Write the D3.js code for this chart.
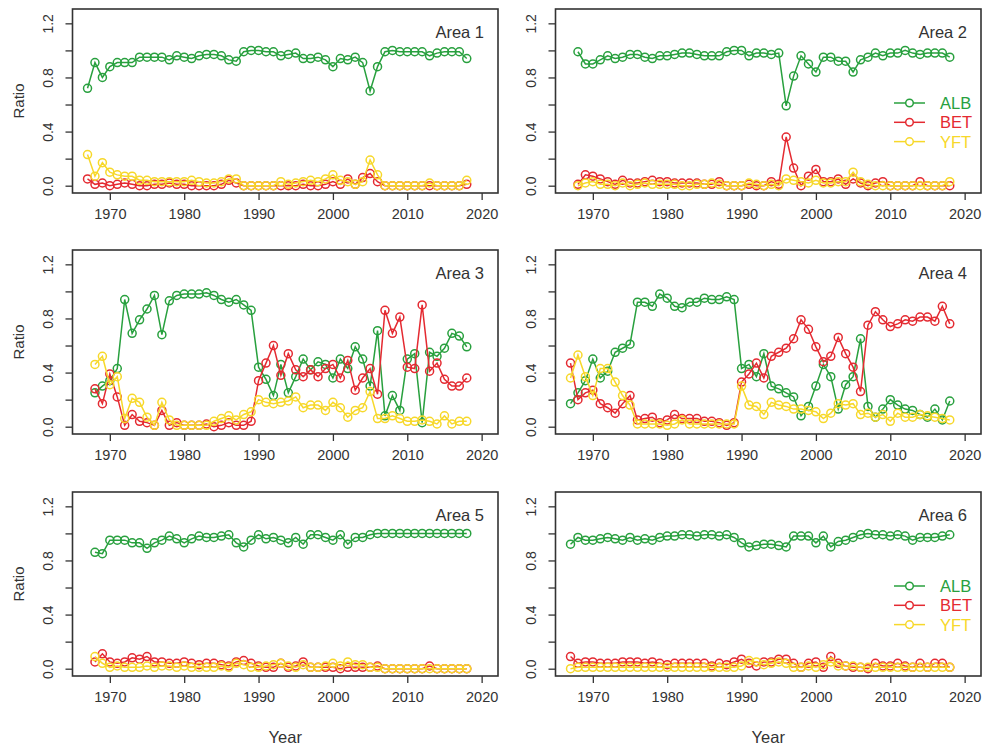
<!DOCTYPE html>
<html>
<head>
<meta charset="utf-8">
<script src="https://cdn.jsdelivr.net/npm/d3@7"></script>
<style>
  html, body { margin: 0; padding: 0; background: #fff; }
  svg { display: block; font-family: "Liberation Sans", Arial, sans-serif; }
</style>
</head>
<body>
<svg id="chart" width="986" height="747"></svg>
<script>
// ── species ratio by area, 6 small multiples (R base-graphics look) ──

const SPECIES = ["ALB", "BET", "YFT"];
const AREAS = ["Area 1", "Area 2", "Area 3", "Area 4", "Area 5", "Area 6"];
const FIRST_YEAR = [1967, 1968, 1968, 1967, 1968, 1967];   // all series end in 2018
const X_TICKS = [1970, 1980, 1990, 2000, 2010, 2020];
const Y_TICKS = [0, 0.2, 0.4, 0.6, 0.8, 1.0, 1.2];
const Y_LABELS = [0, 0.4, 0.8, 1.2];

// Area 1 (1967-2018)
const area1ALB = [0.72,0.91,0.80,0.88,0.91,0.91,0.91,0.95,0.95,0.95,0.95,0.93,0.96,0.95,0.94,0.96,0.97,0.97,0.96,0.93,0.92,0.99,1.00,1.00,0.99,0.99,0.96,0.97,0.98,0.94,0.94,0.95,0.93,0.88,0.94,0.93,0.95,0.91,0.70,0.88,0.99,1.00,0.99,0.99,0.99,0.99,0.96,0.98,0.99,0.99,0.99,0.94];
const area1BET = [0.05,0.01,0.02,0.00,0.01,0.02,0.01,0.00,0.00,0.01,0.01,0.02,0.01,0.01,0.00,0.00,0.00,0.00,0.01,0.04,0.02,0.00,0.00,0.00,0.00,0.00,0.00,0.00,0.00,0.01,0.00,0.00,0.01,0.03,0.01,0.05,0.01,0.06,0.09,0.03,0.00,0.00,0.00,0.00,0.00,0.00,0.00,0.00,0.00,0.00,0.00,0.01];
const area1YFT = [0.23,0.07,0.17,0.10,0.08,0.07,0.07,0.04,0.04,0.03,0.03,0.03,0.03,0.03,0.04,0.03,0.02,0.02,0.03,0.05,0.05,0.00,0.00,0.00,0.00,0.00,0.03,0.01,0.02,0.03,0.04,0.03,0.05,0.08,0.04,0.03,0.01,0.03,0.19,0.08,0.00,0.00,0.00,0.00,0.00,0.00,0.02,0.00,0.00,0.00,0.00,0.04];

// Area 2 (1968-2018)
const area2ALB = [0.99,0.90,0.90,0.93,0.96,0.94,0.95,0.97,0.97,0.95,0.94,0.96,0.96,0.97,0.98,0.98,0.97,0.96,0.96,0.96,0.99,1.00,1.00,0.96,0.98,0.98,0.97,0.98,0.59,0.81,0.96,0.90,0.84,0.95,0.95,0.92,0.92,0.84,0.93,0.95,0.98,0.96,0.98,0.98,1.00,0.98,0.97,0.98,0.98,0.98,0.95];
const area2BET = [0.01,0.08,0.07,0.05,0.03,0.01,0.04,0.02,0.02,0.03,0.04,0.03,0.03,0.02,0.02,0.02,0.02,0.01,0.01,0.03,0.00,0.00,0.00,0.01,0.00,0.00,0.03,0.01,0.36,0.13,0.00,0.07,0.12,0.03,0.03,0.05,0.01,0.05,0.02,0.00,0.02,0.03,0.00,0.00,0.00,0.00,0.03,0.00,0.00,0.00,0.00];
const area2YFT = [0.00,0.02,0.03,0.01,0.01,0.00,0.02,0.00,0.01,0.02,0.01,0.01,0.01,0.01,0.00,0.00,0.01,0.01,0.02,0.01,0.00,0.00,0.00,0.02,0.01,0.00,0.01,0.00,0.05,0.04,0.03,0.02,0.04,0.02,0.02,0.03,0.03,0.10,0.03,0.01,0.00,0.00,0.00,0.00,0.00,0.00,0.00,0.00,0.00,0.00,0.03];

// Area 3 (1968-2018)
const area3ALB = [0.25,0.30,0.34,0.43,0.94,0.69,0.79,0.87,0.97,0.68,0.93,0.97,0.98,0.98,0.98,0.99,0.97,0.94,0.92,0.94,0.90,0.86,0.44,0.35,0.23,0.46,0.25,0.37,0.50,0.42,0.48,0.46,0.36,0.50,0.43,0.59,0.50,0.30,0.71,0.08,0.23,0.12,0.50,0.54,0.03,0.55,0.52,0.58,0.69,0.67,0.59];
const area3BET = [0.28,0.17,0.39,0.22,0.01,0.09,0.04,0.03,0.01,0.12,0.01,0.03,0.01,0.01,0.01,0.02,0.00,0.01,0.03,0.01,0.01,0.04,0.34,0.47,0.60,0.38,0.54,0.42,0.37,0.42,0.37,0.43,0.46,0.36,0.49,0.27,0.36,0.43,0.24,0.86,0.69,0.81,0.44,0.43,0.90,0.41,0.47,0.35,0.30,0.30,0.36];
const area3YFT = [0.46,0.52,0.31,0.37,0.06,0.21,0.18,0.07,0.01,0.18,0.05,0.01,0.01,0.01,0.01,0.01,0.04,0.06,0.08,0.05,0.09,0.11,0.20,0.18,0.17,0.18,0.19,0.22,0.14,0.16,0.16,0.12,0.18,0.14,0.07,0.12,0.14,0.26,0.06,0.06,0.08,0.06,0.04,0.04,0.05,0.04,0.02,0.08,0.02,0.04,0.04];

// Area 4 (1967-2018)
const area4ALB = [0.17,0.25,0.34,0.50,0.36,0.41,0.55,0.58,0.61,0.92,0.92,0.89,0.98,0.95,0.89,0.88,0.92,0.92,0.95,0.94,0.94,0.96,0.94,0.43,0.46,0.37,0.54,0.30,0.28,0.25,0.22,0.08,0.15,0.30,0.46,0.37,0.13,0.31,0.37,0.65,0.15,0.07,0.13,0.20,0.16,0.13,0.12,0.09,0.07,0.13,0.05,0.19];
const area4BET = [0.47,0.20,0.25,0.27,0.17,0.14,0.10,0.17,0.23,0.05,0.06,0.07,0.03,0.05,0.09,0.06,0.06,0.06,0.04,0.04,0.03,0.01,0.03,0.33,0.39,0.47,0.36,0.52,0.55,0.58,0.65,0.79,0.72,0.59,0.48,0.52,0.66,0.54,0.44,0.26,0.75,0.85,0.79,0.74,0.76,0.79,0.78,0.81,0.81,0.78,0.89,0.76];
const area4YFT = [0.36,0.53,0.37,0.23,0.43,0.43,0.33,0.23,0.16,0.02,0.02,0.02,0.02,0.01,0.02,0.05,0.02,0.02,0.02,0.02,0.02,0.02,0.02,0.30,0.16,0.15,0.09,0.18,0.16,0.15,0.13,0.13,0.12,0.11,0.06,0.10,0.17,0.16,0.17,0.09,0.10,0.07,0.09,0.04,0.10,0.07,0.07,0.09,0.08,0.07,0.06,0.05];

// Area 5 (1968-2018)
const area5ALB = [0.86,0.85,0.95,0.95,0.95,0.93,0.93,0.89,0.93,0.95,0.98,0.96,0.93,0.96,0.98,0.97,0.97,0.98,0.99,0.93,0.90,0.95,0.99,0.96,0.97,0.95,0.93,0.97,0.92,0.99,0.99,0.97,0.95,0.99,0.92,0.97,0.97,0.99,1.00,1.00,1.00,1.00,1.00,1.00,1.00,1.00,1.00,1.00,1.00,1.00,1.00];
const area5BET = [0.05,0.11,0.05,0.04,0.05,0.08,0.07,0.09,0.05,0.05,0.04,0.04,0.05,0.04,0.03,0.04,0.04,0.03,0.02,0.05,0.06,0.04,0.02,0.01,0.01,0.04,0.01,0.02,0.05,0.01,0.01,0.01,0.01,0.00,0.01,0.01,0.01,0.01,0.02,0.00,0.00,0.00,0.00,0.00,0.00,0.02,0.00,0.00,0.00,0.00,0.00];
const area5YFT = [0.09,0.04,0.01,0.02,0.01,0.01,0.01,0.02,0.01,0.02,0.02,0.01,0.02,0.01,0.01,0.01,0.01,0.02,0.01,0.04,0.03,0.01,0.01,0.02,0.03,0.04,0.02,0.01,0.03,0.01,0.01,0.02,0.04,0.02,0.05,0.03,0.03,0.01,0.01,0.00,0.00,0.00,0.00,0.00,0.00,0.00,0.00,0.00,0.00,0.00,0.00];

// Area 6 (1967-2018)
const area6ALB = [0.92,0.97,0.95,0.95,0.96,0.97,0.96,0.95,0.97,0.95,0.96,0.95,0.97,0.98,0.98,0.99,0.99,0.98,0.99,0.99,0.98,0.99,0.97,0.93,0.90,0.91,0.92,0.92,0.91,0.90,0.98,0.98,0.98,0.93,0.98,0.90,0.94,0.95,0.97,0.99,1.00,0.99,0.99,0.98,0.99,0.98,0.95,0.97,0.97,0.97,0.98,0.99];
const area6BET = [0.09,0.04,0.05,0.05,0.04,0.04,0.04,0.05,0.05,0.05,0.04,0.05,0.04,0.03,0.04,0.04,0.04,0.04,0.04,0.02,0.04,0.03,0.05,0.07,0.04,0.02,0.05,0.05,0.07,0.07,0.04,0.01,0.04,0.05,0.01,0.09,0.04,0.02,0.01,0.01,0.00,0.04,0.02,0.02,0.04,0.02,0.01,0.04,0.01,0.04,0.04,0.01];
const area6YFT = [0.00,0.01,0.01,0.01,0.01,0.01,0.01,0.01,0.01,0.01,0.01,0.01,0.01,0.01,0.01,0.01,0.01,0.01,0.01,0.01,0.01,0.01,0.01,0.02,0.06,0.05,0.03,0.04,0.05,0.04,0.01,0.01,0.02,0.01,0.03,0.05,0.02,0.02,0.02,0.01,0.01,0.01,0.01,0.01,0.01,0.01,0.01,0.01,0.01,0.01,0.01,0.01];

const SERIES = [
    [area1ALB, area1BET, area1YFT],
    [area2ALB, area2BET, area2YFT],
    [area3ALB, area3BET, area3YFT],
    [area4ALB, area4BET, area4YFT],
    [area5ALB, area5BET, area5YFT],
    [area6ALB, area6BET, area6YFT]
];
const LEGEND_AREAS = [1, 5];   // legend sits in Area 2 and Area 6

const COLORS = { ALB: "#28a03e", BET: "#e42a31", YFT: "#f7d82a" };
const INK = "#333";

const svg = d3.select("#chart");

// panel boxes (plot region), left/right columns, three rows
const COLS = [72.5, 555.5];
const ROWS = [9, 250, 492];
const PW = 425.5, PH = 184;

const xScale = d3.scaleLinear().domain([1964.98, 2022.2]).range([0, PW]);
const yScale = d3.scaleLinear().domain([-0.054, 1.306]).range([PH, 0]);

const lineGen = d3.line()
    .x(d => xScale(d.year))
    .y(d => yScale(d.v));

AREAS.forEach((name, i) => {
    const col = i % 2, row = Math.floor(i / 2);
    const g = svg.append("g").attr("transform", `translate(${COLS[col]},${ROWS[row]})`);

    // axes — R style: ticks hang outside the box, y labels rotated
    const xAx = g.append("g").attr("transform", `translate(0,${PH})`)
        .call(d3.axisBottom(xScale).tickValues(X_TICKS).tickSize(7).tickPadding(9).tickFormat(d3.format("d")));
    const yAx = g.append("g")
        .call(d3.axisLeft(yScale).tickValues(Y_TICKS).tickSize(7)
            .tickFormat(v => Y_LABELS.some(l => Math.abs(l - v) < 1e-9) ? d3.format(".1f")(v) : ""));
    [xAx, yAx].forEach(ax => {
        ax.select(".domain").remove();
        ax.selectAll("line").attr("stroke", INK).attr("stroke-width", 1.3);
        ax.selectAll("text").attr("fill", INK).attr("font-size", 14.5)
            .attr("font-family", "'Liberation Sans', Arial, sans-serif");
    });
    yAx.selectAll("text")
        .attr("x", null).attr("dy", null).attr("font-size", 14)
        .attr("text-anchor", "middle")
        .attr("transform", "translate(-25,0) rotate(-90)")
        .attr("dominant-baseline", "central");

    // series
    const years = d3.range(FIRST_YEAR[i], 2019);
    SPECIES.forEach((sp, k) => {
        const pts = SERIES[i][k].map((v, j) => ({ year: years[j], v }));
        g.append("path").datum(pts)
            .attr("d", lineGen).attr("fill", "none")
            .attr("stroke", COLORS[sp]).attr("stroke-width", 1.5);
        g.selectAll(null).data(pts).enter().append("circle")
            .attr("cx", d => xScale(d.year)).attr("cy", d => yScale(d.v))
            .attr("r", 4).attr("fill", "none")
            .attr("stroke", COLORS[sp]).attr("stroke-width", 1.5);
    });

    // frame
    g.append("rect").attr("width", PW).attr("height", PH)
        .attr("fill", "none").attr("stroke", INK).attr("stroke-width", 1.6);

    g.append("text").attr("x", PW - 14).attr("y", 23)
        .attr("text-anchor", "end").attr("dominant-baseline", "central")
        .attr("fill", INK).attr("font-size", 16.5).text(name);

    if (col === 0) {
        g.append("text")
            .attr("transform", `translate(${18 - COLS[0]},${PH / 2}) rotate(-90)`)
            .attr("text-anchor", "middle").attr("dominant-baseline", "central")
            .attr("fill", INK).attr("font-size", 15).text("Ratio");
    }
    if (row === 2) {
        g.append("text").attr("x", PW / 2).attr("y", PH + 61)
            .attr("text-anchor", "middle").attr("dominant-baseline", "central")
            .attr("fill", INK).attr("font-size", 16.5).text("Year");
    }

    // legend (line + open circle + coloured label)
    if (LEGEND_AREAS.includes(i)) {
        const lg = g.append("g").attr("transform", `translate(${PW - 87},94)`);
        SPECIES.forEach((sp, k) => {
            const y = k * 19.3;
            lg.append("line").attr("x1", 0).attr("x2", 31).attr("y1", y).attr("y2", y)
                .attr("stroke", COLORS[sp]).attr("stroke-width", 1.5);
            lg.append("circle").attr("cx", 15.5).attr("cy", y).attr("r", 3.8)
                .attr("fill", "#fff").attr("stroke", COLORS[sp]).attr("stroke-width", 1.5);
            lg.append("text").attr("x", 46).attr("y", y)
                .attr("dominant-baseline", "central")
                .attr("fill", COLORS[sp]).attr("font-size", 16.5).text(sp);
        });
    }
});
</script>
</body>
</html>
